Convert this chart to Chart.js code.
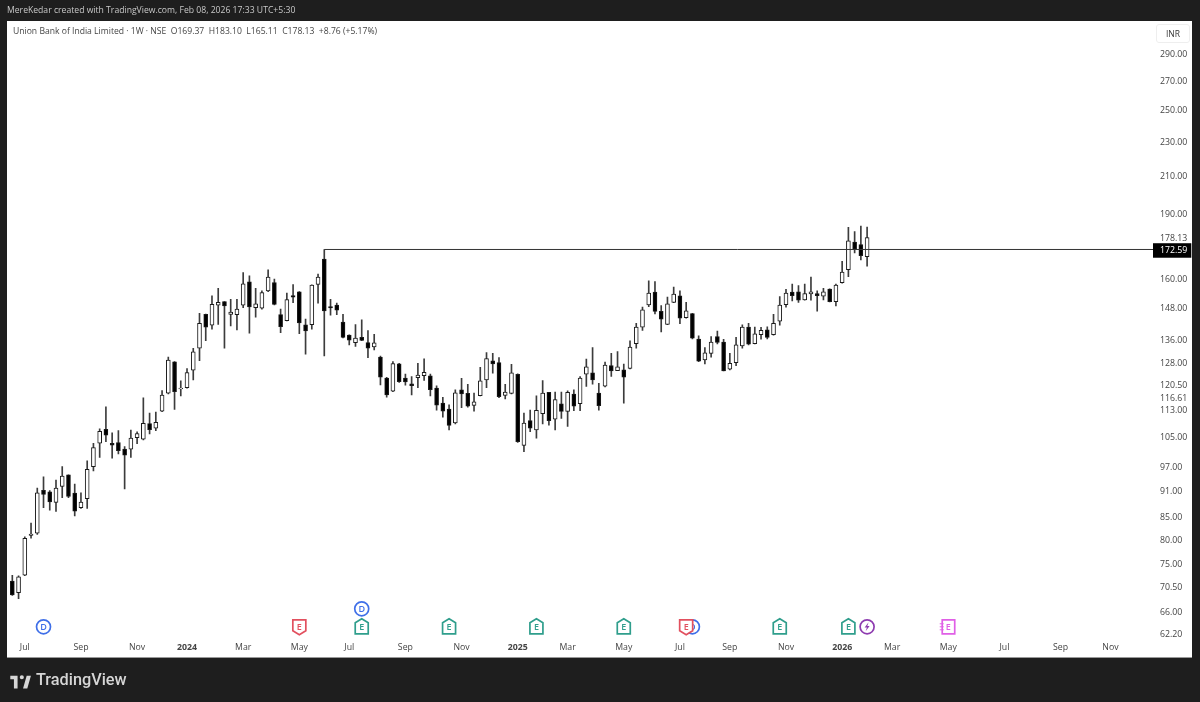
<!DOCTYPE html>
<html><head><meta charset="utf-8">
<script src="https://cdn.jsdelivr.net/npm/chart.js@4"></script>
<style>
html,body{margin:0;padding:0;width:1200px;height:702px;overflow:hidden;background:#1e1e1e;font-family:"Open Sans",sans-serif}
#panel{position:absolute;left:7px;top:21px;width:1185px;height:636px;background:#fff;box-shadow:0 1px 0 #999}
canvas{position:absolute;left:0;top:0}
.t{position:absolute;white-space:pre}
#credit{left:7px;top:4px;font-size:8.65px;line-height:12px;color:#c8c8c8}
#legend{left:13px;top:25px;font-size:8.6px;line-height:12px;color:#444}
#inr{left:1156px;top:24px;width:32px;height:17px;border:1px solid #eee;border-radius:3px;text-align:center;font-size:8.5px;line-height:18px;color:#333}
#brand{left:36px;top:668px;font-size:16.3px;line-height:24px;font-weight:500;color:#d6d6d6;font-family:Roboto,sans-serif}
#logo{position:absolute;left:9px;top:672px}
</style></head><body>
<div id="panel"></div>
<canvas id="c" width="1200" height="702"></canvas>
<div class="t" id="credit">MereKedar created with TradingView.com, Feb 08, 2026 17:33 UTC+5:30</div>
<div class="t" id="legend">Union Bank of India Limited · 1W · NSE  O169.37  H183.10  L165.11  C178.13  +8.76 (+5.17%)</div>
<div class="t" id="inr">INR</div>
<svg id="logo" width="22" height="17" viewBox="0 0 36 28"><path fill="#d6d6d6" d="M14 6H2v6h6v15h6V6Zm16 21h-7l6-21h7l-6 21Zm-9-15a3.4 3.4 0 1 0 0-6.8 3.4 3.4 0 0 0 0 6.8Z"/></svg>
<div class="t" id="brand">TradingView</div>
<script>
const opens=[71.6,69.4,72.7,80.8,81.3,91.1,90.7,88.2,92.0,94.9,90.4,87.0,89.1,97.0,103.2,107.1,103.2,103.4,101.6,101.6,104.7,104.3,108.7,107.4,112.4,117.9,128.1,119.2,119.6,125.3,132.8,145.3,141.2,148.9,150.3,145.3,145.2,148.9,158.4,147.9,147.7,154.6,158.1,145.2,142.9,152.7,154.2,141.3,141.4,157.3,168.3,148.3,148.9,142.3,137.5,134.8,136.7,134.8,133.3,129.7,122.7,118.5,127.4,122.7,120.8,122.8,123.5,123.4,119.5,114.8,113.0,108.9,118.9,117.8,114.1,117.1,122.1,128.4,127.8,117.2,117.8,123.9,102.6,109.6,106.9,111.6,118.1,110.0,114.6,112.3,117.6,114.6,124.0,124.4,117.9,120.1,126.8,125.1,125.4,125.9,134.4,140.4,149.0,154.1,146.5,141.5,150.0,152.6,144.0,145.6,136.1,128.7,131.0,137.0,135.0,125.6,127.8,133.6,140.5,134.4,137.7,139.4,137.7,142.7,149.1,154.1,154.2,151.0,153.4,153.5,152.5,155.4,150.3,158.0,163.6,176.0,174.9,169.37];
const highs=[72.7,72.6,80.5,83.5,91.6,94.4,91.0,93.6,97.0,94.9,92.6,90.5,98.5,103.2,107.2,113.7,106.1,106.7,102.3,106.9,106.4,116.4,111.8,112.1,118.7,129.7,128.2,121.8,125.8,132.8,145.7,145.4,152.6,155.7,150.3,151.2,151.2,162.3,160.9,155.7,154.6,163.5,159.6,147.3,153.7,157.2,154.3,143.5,157.1,161.7,172.59,151.2,149.7,145.3,137.6,141.4,143.2,139.2,137.8,130.1,122.9,128.2,127.6,124.0,123.2,127.6,129.1,124.0,120.2,116.6,114.3,118.9,122.6,120.7,117.9,126.2,131.3,131.0,129.5,120.7,127.2,124.1,111.8,112.7,117.0,121.9,118.1,118.2,118.2,118.6,118.9,123.2,129.0,133.0,121.0,128.0,131.0,131.6,127.3,135.4,141.9,148.1,158.8,158.5,148.7,152.1,156.2,154.7,150.0,145.7,137.2,133.0,137.0,139.0,136.0,131.0,136.7,141.3,141.9,140.5,140.4,140.6,145.3,152.3,155.3,157.4,156.8,157.4,160.4,154.7,155.7,155.5,157.4,167.3,183.0,181.0,183.7,183.10];
const lows=[68.9,68.3,72.6,80.2,81.0,87.0,86.4,86.1,89.3,89.3,85.1,86.8,86.8,95.9,99.4,103.6,99.2,100.3,91.4,99.4,103.1,104.1,105.8,106.7,112.2,117.6,112.9,117.0,119.4,122.1,128.5,135.5,139.7,141.5,132.8,140.9,139.4,147.9,138.2,144.2,147.3,154.3,149.0,138.4,142.8,149.9,138.0,130.7,139.7,149.7,130.1,145.0,145.2,136.5,134.0,133.4,135.5,129.5,132.2,120.5,116.6,118.3,121.3,120.4,117.3,119.6,121.9,117.0,112.7,110.6,106.9,108.6,113.4,113.6,112.4,117.0,119.6,124.3,116.5,116.1,117.6,103.4,100.9,106.4,104.6,108.6,108.3,106.9,110.2,107.9,112.5,112.5,120.0,120.7,112.7,119.8,123.2,125.1,114.8,125.7,132.8,139.2,148.3,145.5,138.7,141.4,149.9,141.7,143.8,136.1,128.1,127.4,129.7,134.3,125.0,125.4,126.8,132.8,134.0,134.3,136.0,136.1,137.5,141.2,148.1,150.6,150.0,150.9,150.9,146.5,151.0,150.2,148.6,157.8,160.6,171.0,167.9,165.11];
const closes=[69.0,72.4,80.2,81.1,90.5,90.1,88.3,91.6,94.6,89.6,86.2,88.3,96.3,102.0,106.5,105.4,102.7,101.2,100.0,104.6,105.9,108.8,107.0,109.1,117.3,128.7,118.3,119.5,124.5,131.5,141.9,140.4,149.2,150.0,148.6,146.2,147.3,157.5,148.2,149.4,153.9,160.4,149.2,140.6,151.1,152.1,142.0,139.0,157.0,160.4,146.6,147.8,146.9,136.7,135.7,136.4,135.6,132.8,134.7,123.0,117.3,127.5,121.5,121.4,120.2,123.7,124.6,119.0,114.2,112.4,108.2,118.0,117.6,113.9,115.2,121.8,129.2,127.4,116.8,118.2,124.4,103.6,108.9,107.4,112.6,117.9,109.6,115.9,112.3,118.1,113.9,122.7,126.4,122.1,114.0,127.0,125.0,126.4,123.0,133.2,140.5,147.0,153.7,146.4,143.4,149.4,153.3,143.8,146.7,136.4,128.3,131.2,135.0,134.9,125.0,127.6,134.0,140.5,134.2,138.0,139.3,136.7,141.9,148.9,153.7,152.7,150.9,153.5,154.2,152.7,154.2,150.3,157.0,162.5,176.6,172.7,169.8,178.13];
const barCount=183;
const tickIndex=[2,11,20,28,37,46,54,63,72,81,89,98,107,115,124,133,141,150,159,168,176];
const tickNames=["Jul","Sep","Nov","2024","Mar","May","Jul","Sep","Nov","2025","Mar","May","Jul","Sep","Nov","2026","Mar","May","Jul","Sep","Nov"];
const priceTicks=[290,270,250,230,210,190,178.13,172.59,160,148,136,128,120.5,116.61,113,105,97,91,85,80,75,70.5,66,62.2];
const rayLevel=172.59, rayStart=50;
const eventIndex=[5,46,56,56,70,84,98,108,109,123,134,137,150];
const eventPrice=[63.4,63.4,66.5,63.4,63.4,63.4,63.4,63.4,63.4,63.4,63.4,63.4,63.4];
const eventKind=["D","Ered","D","E","E","E","E","Ered","D","E","E","S","Ecal"];

const weeks=Array.from({length:barCount},(_,i)=>i);
const wickData=highs.map((h,i)=>[lows[i],h]);
const bodyData=opens.map((o,i)=>[Math.min(o,closes[i]),Math.max(o,closes[i])]);
const bodyFill=opens.map((o,i)=>closes[i]>=o?'#ffffff':'#000000');

const eventPlugin={id:'events',afterDatasetsDraw(ch){
  const c=ch.ctx,X=ch.scales.x,Y=ch.scales.y;
  const order=eventIndex.map((_,i)=>i).sort((a,b)=>(eventKind[a]==="Ered")-(eventKind[b]==="Ered"));
  order.forEach(i=>{
    const x=X.getPixelForValue(eventIndex[i]),y=Y.getPixelForValue(eventPrice[i]),k=eventKind[i];
    const col={D:'#3f6fe8',E:'#2f9e8c',Ered:'#e2505f',S:'#8e3cb0',Ecal:'#e05fe6'}[k];
    c.save();c.lineWidth=1.7;c.strokeStyle=col;c.fillStyle='#fff';
    c.beginPath();
    if(k==='D'||k==='S'){c.arc(x,y,7,0,Math.PI*2);}
    else if(k==='E'){c.moveTo(x,y-8);c.lineTo(x+6.5,y-4);c.lineTo(x+6.5,y+7);c.lineTo(x-6.5,y+7);c.lineTo(x-6.5,y-4);c.closePath();}
    else if(k==='Ered'){c.moveTo(x-6.5,y-7);c.lineTo(x+6.5,y-7);c.lineTo(x+6.5,y+4);c.lineTo(x,y+8);c.lineTo(x-6.5,y+4);c.closePath();}
    else{c.rect(x-6,y-7,12.5,14);}
    c.fill();c.stroke();
    c.fillStyle=col;c.font='600 9px "Open Sans"';c.textAlign='center';c.textBaseline='middle';
    if(k==='S'){c.beginPath();c.moveTo(x+1.5,y-4.5);c.lineTo(x-2.5,y+0.8);c.lineTo(x-0.2,y+0.8);c.lineTo(x-1.5,y+4.5);c.lineTo(x+2.5,y-0.8);c.lineTo(x+0.2,y-0.8);c.closePath();c.fill();}
    else{c.fillText(k==='D'?'D':'E',x,y+0.5);}
    if(k==='Ecal'){c.lineWidth=1;c.beginPath();for(const d of[-3,0,3]){c.moveTo(x-8.5,y+d);c.lineTo(x-4.5,y+d);}c.stroke();}
    c.restore();
  });
}};

new Chart(document.getElementById('c'),{
  data:{labels:weeks,datasets:[
    {type:'bar',label:'Range',data:wickData,backgroundColor:'#3c3c3c',barThickness:1,grouped:false,order:3},
    {type:'bar',label:'Body',data:bodyData,backgroundColor:bodyFill,borderColor:'#1a1a1a',borderWidth:1,borderSkipped:false,barThickness:4,grouped:false,order:2},
    {type:'line',label:'Level',xAxisID:'x2',data:[{x:rayStart,y:rayLevel},{x:barCount-0.5,y:rayLevel}],borderColor:'#333',borderWidth:1,pointRadius:0,order:1}
  ]},
  options:{
    responsive:false,animation:false,devicePixelRatio:1,
    layout:{padding:{left:9.2,top:21,right:8,bottom:45}},
    plugins:{legend:{display:false},title:{display:false},tooltip:{enabled:false}},
    scales:{
      x:{type:'category',offset:true,border:{display:false},grid:{display:false},
        afterFit(a){a.height=21;},
        ticks:{autoSkip:false,maxRotation:0,minRotation:0,padding:-2,color:'#444',
          font:ctx=>({family:'"Open Sans"',size:8.75,weight:/^20/.test(tickNames[tickIndex.indexOf(ctx.index)]||'')?'700':'400'}),
          callback:(v,i)=>{const k=tickIndex.indexOf(i);return k<0?'':tickNames[k];}}},
      x2:{type:'linear',display:false,min:-0.5,max:barCount-0.5},
      y:{type:'logarithmic',position:'right',min:61.87,max:316.5,bounds:'data',
        border:{display:false},
        afterFit(a){a.width=41;},
        afterBuildTicks(a){a.ticks=priceTicks.map(v=>({value:v}));},
        grid:{drawOnChartArea:false,drawTicks:true,tickLength:2,tickColor:c=>c.tick&&c.tick.value===rayLevel?'#333':'transparent'},
        ticks:{autoSkip:false,padding:7,crossAlign:'near',labelOffset:1,
          font:{family:'"Open Sans"',size:8.75},
          color:c=>c.tick&&c.tick.value===rayLevel?'#ffffff':'#444',
          showLabelBackdrop:c=>!!(c.tick&&c.tick.value===rayLevel),
          backdropColor:'#000',backdropPadding:{left:7,right:4,top:2,bottom:2},
          callback:v=>Number(v).toFixed(2)}}
    }
  },
  plugins:[eventPlugin]
});
</script>
</body></html>
